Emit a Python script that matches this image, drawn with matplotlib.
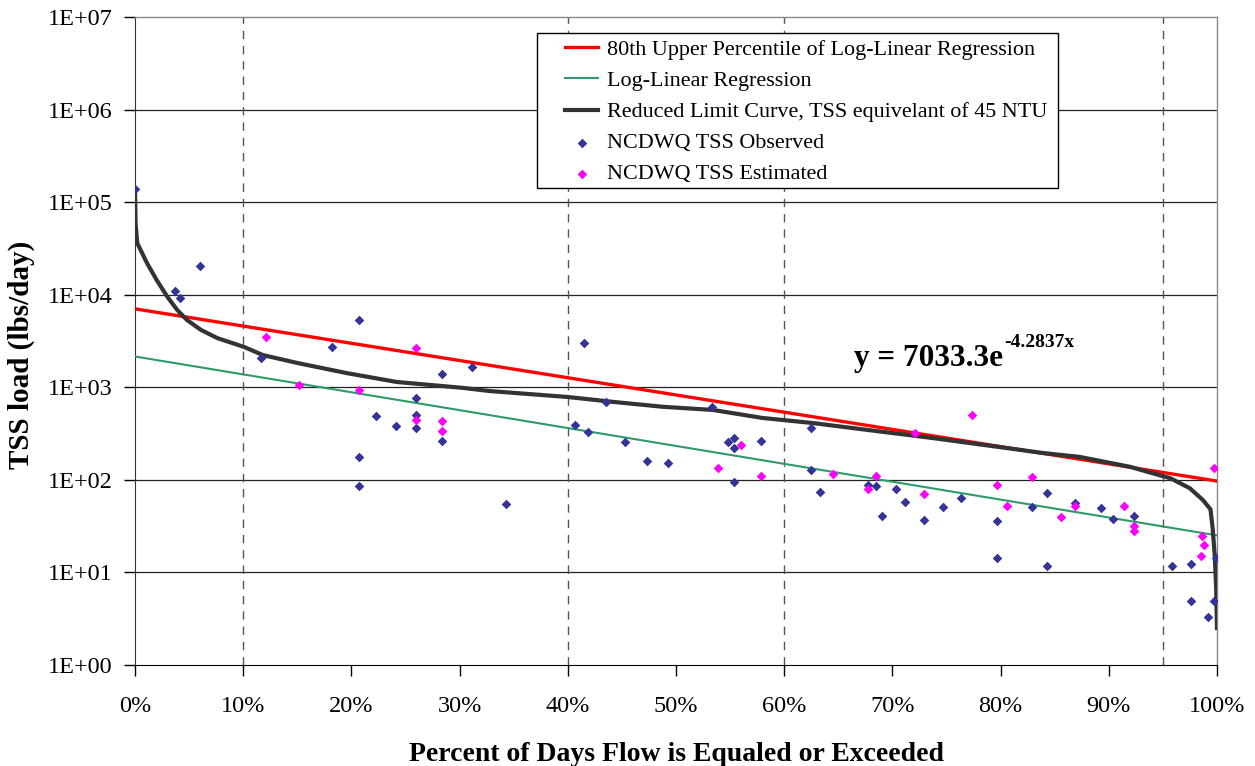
import numpy as np
import matplotlib
matplotlib.use("Agg")
import matplotlib.pyplot as plt
from matplotlib.patches import Rectangle
from matplotlib.ticker import FixedLocator, FuncFormatter

plt.rcParams['font.family'] = ['Liberation Serif', 'DejaVu Serif']

# Regression coefficients (exponential fits, x as fraction of days)
upper_a, upper_b = 7033.3, -4.2837
reg_a, reg_b = 2150.0, -4.45

# Reduced limit curve (45 NTU TSS equivalent) along the flow duration curve
limit_pct = [0.0, 0.0005, 0.002, 0.011, 0.020, 0.030, 0.039, 0.048, 0.061, 0.076,
             0.101, 0.118, 0.150, 0.196, 0.242, 0.303, 0.328, 0.400, 0.442, 0.488,
             0.534, 0.580, 0.627, 0.677, 0.737, 0.799, 0.839, 0.873, 0.920, 0.938,
             0.957, 0.975, 0.987, 0.994, 0.996, 0.998, 0.9993, 1.0]
limit_load = [130000, 59600, 36200, 22000, 14400, 9450, 6840, 5330, 4160, 3400,
              2720, 2230, 1830, 1420, 1140, 985, 910, 785, 695, 615,
              569, 466, 410, 346, 283, 226, 195, 177, 138, 120,
              104, 81, 60.5, 48, 30, 15, 6.5, 2.5]

# Observed TSS loads
obs_pct = [0.0, 0.060, 0.037, 0.042, 0.207, 0.182, 0.116, 0.284, 0.311, 0.260,
           0.223, 0.260, 0.241, 0.260, 0.284, 0.207, 0.207,
           0.415, 0.435, 0.407, 0.419, 0.453, 0.473, 0.493, 0.533, 0.548, 0.554,
           0.554, 0.579, 0.554, 0.343, 0.625, 0.625, 0.633,
           0.677, 0.685, 0.690, 0.703, 0.712, 0.729, 0.747, 0.763, 0.797, 0.797,
           0.829, 0.843, 0.843,
           0.869, 0.893, 0.904, 0.923, 0.958, 0.976, 0.999, 0.976, 0.997, 0.992]
obs_load = [139000, 20400, 11000, 9200, 5330, 2720, 2070, 1390, 1660, 766,
            490, 500, 380, 363, 263, 177, 86,
            3010, 693, 389, 329, 257, 160, 151, 612, 257, 282,
            221, 264, 95, 55, 363, 128, 74,
            88, 86, 40.7, 80, 57.6, 36.8, 51, 63.5, 36, 14.3,
            51, 72, 11.7,
            56, 50, 37.8, 40.7, 11.7, 12.3, 14.3, 4.9, 4.9, 3.3]

# Estimated TSS loads
est_pct = [0.121, 0.260, 0.152, 0.207, 0.260, 0.284, 0.284,
           0.560, 0.539, 0.579,
           0.645, 0.677, 0.685, 0.721, 0.729, 0.774, 0.797, 0.806, 0.829,
           0.856, 0.869, 0.914, 0.923, 0.923, 0.986, 0.988, 0.985, 0.997]
est_load = [3490, 2660, 1060, 933, 443, 433, 338,
            238, 134, 110,
            116, 80, 110, 321, 70, 502, 88, 52, 107,
            40, 52, 52, 31.8, 28, 25, 20, 15, 134]

fig = plt.figure(figsize=(12.55, 7.66), dpi=100)
ax = fig.add_axes([0.1076, 0.1319, 0.8621, 0.8459])

xs = np.linspace(0, 1, 200)
ax.plot(xs, upper_a * np.exp(upper_b * xs), color='#ff0000', lw=2.4, zorder=3,
        label='80th Upper Percentile of Log-Linear Regression')
ax.plot(xs, reg_a * np.exp(reg_b * xs), color='#2e9a6a', lw=1.5, zorder=3,
        label='Log-Linear Regression')
ax.plot(limit_pct, limit_load, color='#333333', lw=3, zorder=4,
        solid_joinstyle='round', label='Reduced Limit Curve, TSS equivelant of 45 NTU')
ax.scatter(obs_pct, obs_load, marker='D', s=24, color='#333399', zorder=5,
           label='NCDWQ TSS Observed', linewidths=0)
ax.scatter(est_pct, est_load, marker='D', s=24, color='#ff00ff', zorder=5,
           label='NCDWQ TSS Estimated', linewidths=0)

ax.set_yscale('log')
ax.set_ylim(1, 1e7)
ax.set_xlim(0, 1)

ax.yaxis.set_major_locator(FixedLocator([10.0 ** k for k in range(8)]))
ax.yaxis.set_minor_locator(FixedLocator([]))
ax.yaxis.set_major_formatter(FuncFormatter(lambda v, p: '1E+%02d' % round(np.log10(v))))
ax.xaxis.set_major_locator(FixedLocator(np.arange(0, 1.01, 0.1)))
ax.xaxis.set_major_formatter(FuncFormatter(lambda v, p: '%d%%' % round(v * 100)))
ax.tick_params(axis='both', labelsize=17.5, direction='out', length=8, width=1)
ax.tick_params(axis='x', pad=14)
ax.tick_params(axis='y', pad=8)

# solid decade gridlines and dashed reference percentiles
for k in range(1, 7):
    ax.axhline(10.0 ** k, color='#222222', lw=0.9, zorder=1)
for p in [0.10, 0.40, 0.60, 0.95]:
    ax.axvline(p, color='#555555', lw=1.0, ls=(0, (6, 5)), zorder=1)

for side in ['top', 'right']:
    ax.spines[side].set_color('#888888')
    ax.spines[side].set_linewidth(1.0)
ax.spines['left'].set_color('#333333')
ax.spines['bottom'].set_color('#000000')

ax.set_ylabel('TSS load (lbs/day)', fontsize=21, fontweight='bold')
ax.yaxis.set_label_coords(-0.092, 0.478)
ax.set_xlabel('Percent of Days Flow is Equaled or Exceeded', fontsize=20,
              fontweight='bold', labelpad=18)

# fitted equation for the upper percentile line
ax.text(0.802, 0.462, 'y = 7033.3e', transform=ax.transAxes,
        fontsize=22.5, fontweight='bold', ha='right', va='baseline')
ax.text(0.803, 0.491, '-4.2837x', transform=ax.transAxes,
        fontsize=14, fontweight='bold', ha='left', va='baseline')

# legend box drawn on its own so the handles sit inset from the frame
ax.add_patch(Rectangle((0.3715, 0.736), 0.4815, 0.2393, transform=ax.transAxes,
                       facecolor='white', edgecolor='#000000', lw=1.0, zorder=6))
leg = ax.legend(loc='upper left', bbox_to_anchor=(0.3974, 0.965), fontsize=15.9,
                frameon=False, borderpad=0, labelspacing=0.48,
                handlelength=1.5, handletextpad=0.42, borderaxespad=0)
leg.set_zorder(7)

fig.savefig('out.png', dpi=100, facecolor='white')
